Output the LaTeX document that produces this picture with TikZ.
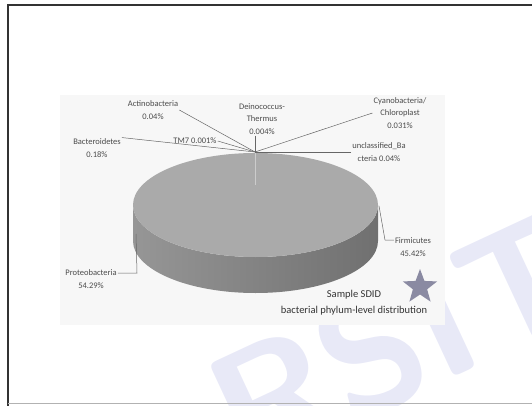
\documentclass[tikz,border=0pt]{standalone}
\usepackage{fontspec}
\setmainfont{Carlito}
\usetikzlibrary{shapes.geometric}
\definecolor{pietop}{RGB}{170,170,170}
\definecolor{sideL}{RGB}{150,150,150}
\definecolor{sideR}{RGB}{112,112,112}
\definecolor{lavender}{RGB}{232,233,247}
\definecolor{starcol}{RGB}{138,138,162}
\tikzstyle{lbl} = [font=\fontsize{8.5}{12.5}\selectfont, text=black!70, align=center, inner sep=1pt]
\tikzstyle{leader} = [draw=black!60, line width=0.5pt]

\begin{document}
\begin{tikzpicture}[x=1pt,y=-1pt]
			\useasboundingbox (0,0) rectangle (532,406);
			\begin{scope}
				\clip (0,0) rectangle (532,406);
				\node[font=\sffamily\bfseries\fontsize{165}{165}\selectfont, text=lavender, rotate=25] (mark) at (398,340) {RSIT};
			\end{scope}
			\fill[black!3] (60,95) rectangle (445,325);
			\draw[black!80, line width=1.2pt] (8,406) -- (8,5) -- (532,5);
			\draw[black!30, line width=0.8pt] (8,403) -- (532,403);
			% pie
			\path[left color=sideL, right color=sideR] (133,205) -- (133,241) arc[start angle=180, end angle=0, x radius=122.5, y radius=52] -- (378,205) arc[start angle=0, end angle=180, x radius=122.5, y radius=52] -- cycle;
			\fill[pietop] (255.5,205) ellipse[x radius=122.5, y radius=52];
			\coordinate (hub) at (255,152);
			\coordinate (edgeEnd) at (255,185);
			\draw[black!20, line width=0.8pt] (hub) -- (edgeEnd);
			\coordinate (firmPt) at (379,206);
			\coordinate (firmBend) at (385,240);
			\coordinate (proteoPt) at (136,234);
			\coordinate (proteoBend) at (137,273);
			% labels
			\node[lbl] (actino) at (153,110) {Actinobacteria\\0.04\%};
			\node[lbl] (deino) at (262,119) {Deinococcus-\\Thermus\\0.004\%};
			\node[lbl] (cyano) at (400,113) {Cyanobacteria/\\Chloroplast\\0.031\%};
			\node[lbl] (bactero) at (97,148) {Bacteroidetes\\0.18\%};
			\node[lbl] (tm7) at (195,141) {TM7 0.001\%};
			\node[lbl] (uncl) at (379,152) {unclassified\_Ba\\cteria 0.04\%};
			\node[lbl] (firm) at (413,247) {Firmicutes\\45.42\%};
			\node[lbl] (proteo) at (91,279) {Proteobacteria\\54.29\%};
			\draw[leader] (actino.east) -- (hub);
			\draw[leader] (deino.south -| hub) -- (hub);
			\draw[leader] (cyano.west) -- (hub);
			\draw[leader] (bactero.north east) -- (hub);
			\draw[leader] (tm7.east) -- (hub);
			\draw[leader] (uncl.west) -- (hub);
			\draw[leader] (firmPt) -- (firmBend) -- (firm.west |- firmBend);
			\draw[leader] (proteoPt) -- (proteoBend) -- (proteo.east |- proteoBend);
			% caption
			\node[star, star points=5, star point ratio=2.4, fill=starcol, minimum size=36pt, inner sep=0pt] (marker) at (420,287) {};
			\node[font=\fontsize{10.5}{16}\selectfont, text=black!80, align=center] (caption) at (354,303) {Sample SDID\\bacterial phylum-level distribution};
		\end{tikzpicture}
\end{document}
